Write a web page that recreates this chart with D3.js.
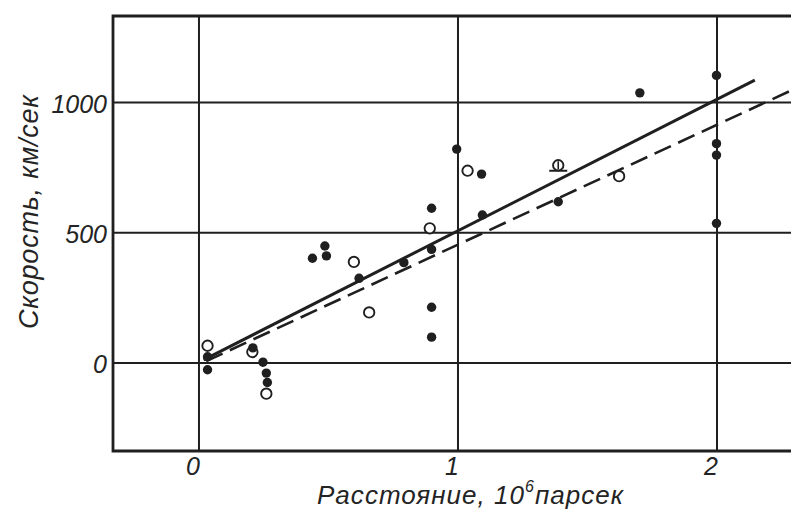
<!DOCTYPE html>
<html>
<head>
<meta charset="utf-8">
<script src="https://cdn.jsdelivr.net/npm/d3@7"></script>
<style>
  body { margin: 0; background: #ffffff; }
  svg { display: block; }
  text { font-family: "Liberation Sans", Arial, sans-serif; font-style: italic; fill: #242424; }
</style>
</head>
<body>
<svg id="chart" width="791" height="512"></svg>
<script>
// Distance (10^6 parsec) and radial velocity (km/s) of nebulae
// Filled markers
const filledDist = [0.035, 0.035, 0.21, 0.249, 0.262, 0.266, 0.44, 0.488, 0.494, 0.62, 0.793,
                    0.9, 0.9, 0.9, 0.9, 0.997, 1.093, 1.096, 1.389, 1.704, 2.0, 2.0, 2.0, 2.0];
const filledVel  = [-28, 22, 56, 1, -41, -77, 400, 447, 409, 323, 383,
                    592, 434, 212, 97, 819, 723, 566, 617, 1035, 1102, 840, 796, 534];
// Open markers
const openDist = [0.035, 0.208, 0.262, 0.6, 0.659, 0.893, 1.039, 1.624];
const openVel  = [64, 40, -120, 386, 192, 515, 736, 715];
// Open marker with a bar
const barredDist = [1.389];
const barredVel  = [757];

// Fitted relations (end points)
const solidFitDist  = [0.02, 2.148];
const solidFitVel   = [10, 1084];
const dashedFitDist = [0.03, 2.29];
const dashedFitVel  = [5, 1045];

// Axes
const xTickValues = [0, 1, 2];
const yTickValues = [0, 500, 1000];
const xTitleMain = "Расстояние, 10";
const xTitleSup = "6";
const xTitleUnit = "парсек";
const yTitle = "Скорость, км/сек";

const ink = "#1f1f1f";
const plotLeft = 113, plotRight = 794.2, plotTop = 16, plotBottom = 451;

const svg = d3.select("#chart");

const x = d3.scaleLinear().domain([-0.33, 2.3]).range([plotLeft, plotRight]);
const y = d3.scaleLinear().domain([-340, 1330]).range([plotBottom, plotTop]);

const tickFont = sel => sel
  .attr("font-size", 25).attr("fill", ink)
  .style("font-family", '"Liberation Sans", Arial, sans-serif').style("font-style", "italic");

// Vertical grid lines + distance labels
const xAxis = svg.append("g")
  .attr("transform", `translate(0,${plotBottom})`)
  .call(d3.axisBottom(x).tickValues(xTickValues).tickSize(-(plotBottom - plotTop)).tickFormat(d3.format("d")));
xAxis.select(".domain").remove();
xAxis.selectAll(".tick line").attr("stroke", ink).attr("stroke-width", 2);
xAxis.selectAll(".tick text").call(tickFont)
  .attr("y", 0).attr("dy", 24).attr("dx", -6);

// Horizontal grid lines + velocity labels
const yAxis = svg.append("g")
  .attr("transform", `translate(${plotLeft},0)`)
  .call(d3.axisLeft(y).tickValues(yTickValues).tickSize(-(plotRight - plotLeft)).tickFormat(d3.format("d")));
yAxis.select(".domain").remove();
yAxis.selectAll(".tick line").attr("stroke", ink).attr("stroke-width", 2);
yAxis.selectAll(".tick text").call(tickFont)
  .attr("x", -6).attr("dy", "0.42em");

// Frame
svg.append("path")
  .attr("d", `M${plotRight},${plotTop}H${plotLeft}V${plotBottom}H${plotRight}`)
  .attr("fill", "none").attr("stroke", ink).attr("stroke-width", 2.8);

// Clip for the fit lines
svg.append("clipPath").attr("id", "plotClip")
  .append("rect").attr("x", plotLeft).attr("y", plotTop)
  .attr("width", plotRight - plotLeft).attr("height", plotBottom - plotTop);

const lineGen = d3.line().x(d => x(d[0])).y(d => y(d[1]));
const fits = svg.append("g").attr("clip-path", "url(#plotClip)");
fits.append("path")
  .datum(d3.zip(dashedFitDist, dashedFitVel))
  .attr("d", lineGen).attr("fill", "none").attr("stroke", ink)
  .attr("stroke-width", 2.6).attr("stroke-dasharray", "18,8");
fits.append("path")
  .datum(d3.zip(solidFitDist, solidFitVel))
  .attr("d", lineGen).attr("fill", "none").attr("stroke", ink)
  .attr("stroke-width", 3);

// Open markers
svg.append("g").selectAll("circle")
  .data(d3.zip(openDist, openVel)).join("circle")
  .attr("cx", d => x(d[0])).attr("cy", d => y(d[1])).attr("r", 5.2)
  .attr("fill", "#fff").attr("stroke", ink).attr("stroke-width", 1.9);

// Barred open marker
const barred = svg.append("g").selectAll("g")
  .data(d3.zip(barredDist, barredVel)).join("g")
  .attr("transform", d => `translate(${x(d[0])},${y(d[1])})`);
barred.append("line").attr("x1", -9).attr("x2", 9).attr("y1", 5.5).attr("y2", 5.5)
  .attr("stroke", ink).attr("stroke-width", 2);
barred.append("circle").attr("r", 5.2)
  .attr("fill", "#fff").attr("stroke", ink).attr("stroke-width", 1.9);
barred.append("line").attr("x1", 0).attr("x2", 0).attr("y1", -4).attr("y2", 4)
  .attr("stroke", ink).attr("stroke-width", 1.6);

// Filled markers
svg.append("g").selectAll("circle")
  .data(d3.zip(filledDist, filledVel)).join("circle")
  .attr("cx", d => x(d[0])).attr("cy", d => y(d[1])).attr("r", 4.7)
  .attr("fill", ink);

// Axis titles
const xt = svg.append("text")
  .attr("x", 470).attr("y", 504)
  .attr("text-anchor", "middle").attr("font-size", 26)
  .attr("textLength", 306).attr("lengthAdjust", "spacing");
xt.append("tspan").text(xTitleMain);
xt.append("tspan").attr("dy", -12).attr("font-size", 16).text(xTitleSup);
xt.append("tspan").attr("dy", 12).text(xTitleUnit);

svg.append("text")
  .attr("transform", "translate(29,212) rotate(-90)")
  .attr("text-anchor", "middle").attr("dominant-baseline", "central")
  .attr("font-size", 27)
  .attr("textLength", 234).attr("lengthAdjust", "spacing")
  .text(yTitle);
</script>
</body>
</html>
